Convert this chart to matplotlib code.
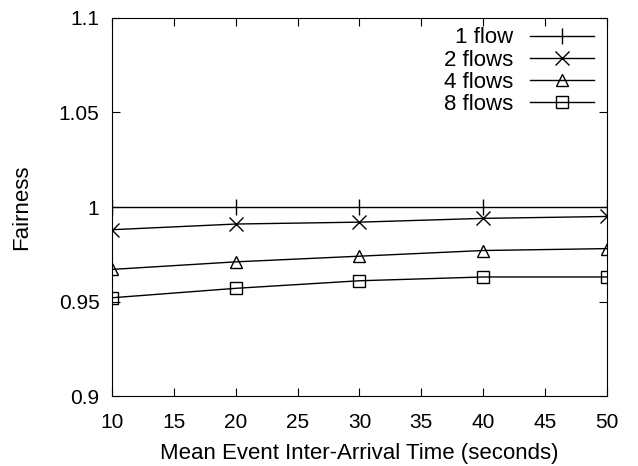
import matplotlib
matplotlib.use("Agg")
import matplotlib.pyplot as plt

# values
arrival_time = [10, 20, 30, 40, 50]
flow1 = [1.0, 1.0, 1.0, 1.0, 1.0]
flow2 = [0.988, 0.991, 0.992, 0.994, 0.995]
flow4 = [0.967, 0.971, 0.974, 0.977, 0.978]
flow8 = [0.952, 0.957, 0.961, 0.963, 0.963]
series_labels = ["1 flow", "2 flows", "4 flows", "8 flows"]
x_ticks = [10, 15, 20, 25, 30, 35, 40, 45, 50]
y_ticks = [0.9, 0.95, 1.0, 1.05, 1.1]
y_ticklabels = ["0.9", "0.95", "1", "1.05", "1.1"]

plt.rcParams['font.family'] = ['Liberation Sans', 'DejaVu Sans']

fig = plt.figure(figsize=(6.38, 4.66), dpi=100)
ax = fig.add_axes([0.1755, 0.150, 0.7759, 0.8115])

style = dict(color='black', linewidth=1.0, markerfacecolor='none',
             markeredgecolor='black', markeredgewidth=1.0)
ax.plot(arrival_time, flow1, marker='|', markersize=12, label=series_labels[0], **style)
ax.plot(arrival_time, flow2, marker='x', markersize=10, label=series_labels[1], **style)
ax.plot(arrival_time, flow4, marker='^', markersize=9, label=series_labels[2], **style)
ax.plot(arrival_time, flow8, marker='s', markersize=9, label=series_labels[3], **style)

ax.set_xlim(10, 50)
ax.set_ylim(0.9, 1.1)
ax.set_xticks(x_ticks)
ax.set_yticks(y_ticks)
ax.set_yticklabels(y_ticklabels)
ax.tick_params(direction='in', length=6, width=0.8, top=True, right=True,
               labelsize=15)
ax.tick_params(axis='x', pad=12)
ax.tick_params(axis='y', pad=9)
for sp in ax.spines.values():
    sp.set_linewidth(0.8)

ax.set_xlabel("Mean Event Inter-Arrival Time (seconds)", fontsize=16, labelpad=8)
ax.set_ylabel("Fairness", fontsize=16, labelpad=19)

ax.legend(loc='upper right', frameon=False, markerfirst=False, fontsize=16,
          handlelength=2.9, handletextpad=0.75, labelspacing=0.05,
          borderaxespad=0.0, borderpad=0.0, bbox_to_anchor=(0.974, 0.975))

fig.savefig("out.png", dpi=100)
